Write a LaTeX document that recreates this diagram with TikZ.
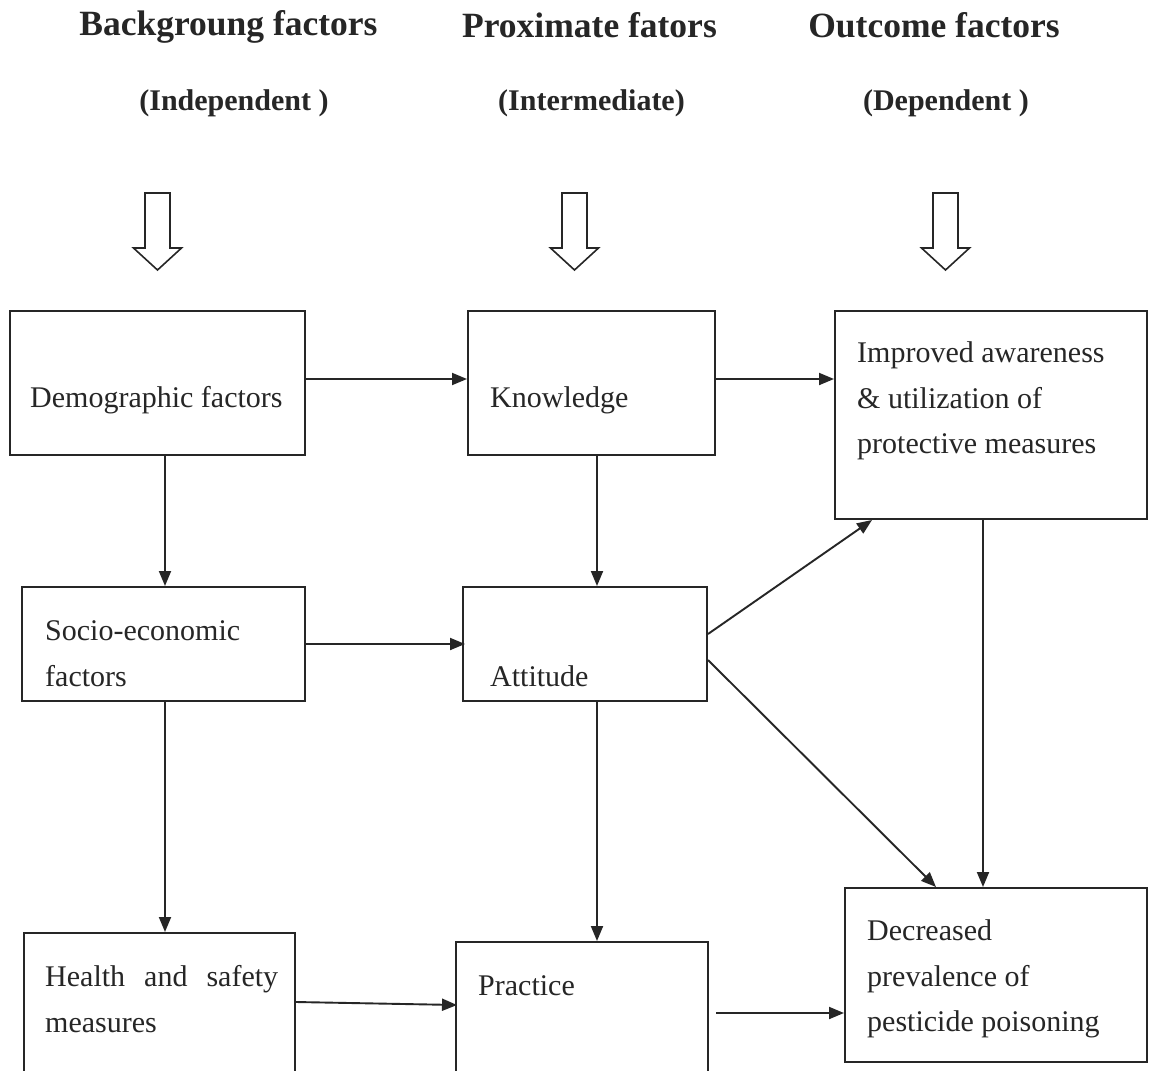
\documentclass[tikz,border=0pt]{standalone}
\usepackage{fontspec}
\setmainfont{Liberation Serif}
\usetikzlibrary{arrows.meta}
\definecolor{ink}{HTML}{262626}
\begin{document}
\begin{tikzpicture}[x=1pt,y=-1pt,
  box/.style={draw=ink, line width=2pt, rectangle, inner sep=0pt},
  txt/.style={font=\fontsize{30}{45.5}\selectfont, text=ink, inner sep=0pt, align=left, anchor=west},
  ttl/.style={font=\bfseries\fontsize{35.5}{40}\selectfont, text=ink, inner sep=0pt},
  sub/.style={font=\bfseries\fontsize{30}{36}\selectfont, text=ink, inner sep=0pt},
  conn/.style={draw=ink, line width=1.9pt, -{Triangle[length=15pt,width=12pt]}},
  hollow/.style={draw=ink, line width=1.6pt, fill=white},
  hollowarrow/.pic={\draw[hollow] (-12.5,0) -- (12.5,0) -- (12.5,55) -- (24,55) -- (0,77) -- (-24,55) -- (-12.5,55) -- cycle;}]
\useasboundingbox (0,0) rectangle (1149,1071);
\fill[white] (0,0) rectangle (1149,1071);

% titles
\node[ttl] (t1) at (228.5,27) {Backgroung factors};
\node[ttl] (t2) at (589.5,25) {Proximate fators};
\node[ttl] (t3) at (934,25) {Outcome factors};
\node[sub] (s1) at (234,103) {(Independent )};
\node[sub] (s2) at (591.5,103) {(Intermediate)};
\node[sub] (s3) at (946,103) {(Dependent )};

% hollow arrows
\pic at (157.5,193) {hollowarrow};
\pic at (574.5,193) {hollowarrow};
\pic at (945.5,193) {hollowarrow};

% boxes
\node[box, minimum width=295pt, minimum height=144pt] (demo) at (157.5,383) {};
\node[box, minimum width=247pt, minimum height=144pt] (know) at (591.5,383) {};
\node[box, minimum width=312pt, minimum height=208pt] (impr) at (991,415) {};
\node[box, minimum width=283pt, minimum height=114pt] (socio) at (163.5,644) {};
\node[box, minimum width=244pt, minimum height=114pt] (att) at (585,644) {};
\node[box, minimum width=271pt, minimum height=167pt] (health) at (159.5,1016.5) {};
\node[box, minimum width=252pt, minimum height=158pt] (prac) at (582,1021) {};
\node[box, minimum width=302pt, minimum height=174pt] (decr) at (996,975) {};

% texts
\node[txt] (demoT) at (30,400) {Demographic factors};
\node[txt] (knowT) at (490,400) {Knowledge};
\node[txt] (imprT) at (857,401) {Improved awareness\\\& utilization of\\protective measures};
\node[txt] (socioT) at (45,653.5) {Socio-economic\\factors};
\node[txt] (attT) at (490,676) {Attitude};
\node[txt] (healthT) at (45,999) {\makebox[233pt][s]{Health and safety}\\measures};
\node[txt] (pracT) at (478,986) {Practice};
\node[txt] (decrT) at (867,979) {Decreased\\prevalence of\\pesticide poisoning};

% connectors
\draw[conn] ([yshift=4pt]demo.east) -- ([yshift=4pt]demo.east -| know.west);
\draw[conn] ([yshift=4pt]know.east) -- ([yshift=4pt]know.east -| impr.west);
\draw[conn] ([xshift=1.5pt]demo.south -| socio.north) -- ([xshift=1.5pt]socio.north);
\draw[conn] ([xshift=5.5pt]know.south) -- ([xshift=5.5pt]know.south |- att.north);
\draw[conn] (socio.east) -- ([xshift=3pt]att.west);
\draw[conn] ([xshift=1.5pt]socio.south) -- ([xshift=1.5pt]socio.south |- health.north);
\draw[conn] ([xshift=12pt]att.south) -- ([xshift=12pt]att.south |- prac.north);
\draw[conn] ([yshift=10pt]att.east) -- ([xshift=38pt]impr.south west);
\draw[conn] ([yshift=-16pt]att.east) -- ([xshift=92pt]decr.north west);
\draw[conn] ([xshift=-8pt]impr.south) -- ([xshift=-8pt]impr.south |- decr.north);
\draw[conn] ([yshift=14.5pt]health.east) -- ([yshift=16pt,xshift=2pt]prac.west);
\draw[conn] ([xshift=7pt,yshift=8pt]prac.east) -- ([yshift=8pt]prac.east -| decr.west);
\end{tikzpicture}
\end{document}
